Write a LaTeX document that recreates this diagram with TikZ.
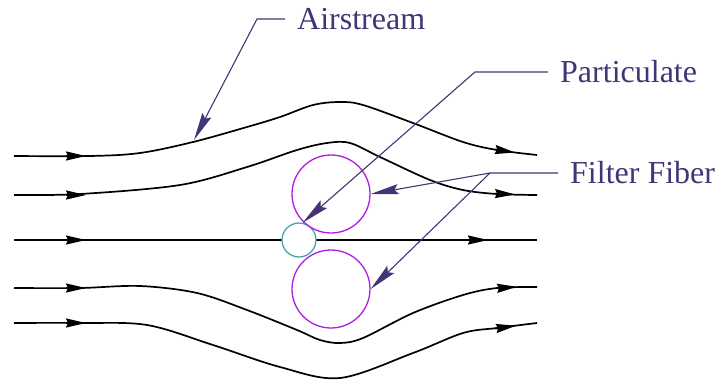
\documentclass[tikz,border=0pt]{standalone}
\usepackage{fontspec}
\setmainfont{Liberation Serif}
\usepackage{tikz}
\usetikzlibrary{arrows.meta}
\definecolor{leadpurple}{RGB}{68,52,118}
\definecolor{fibermag}{RGB}{175,30,225}
\definecolor{partteal}{RGB}{80,160,180}

\begin{document}
\begin{tikzpicture}[x=1pt, y=-1pt,
    stream/.style={line width=1.7pt, black},
    flow/.style={-{Stealth[length=20pt,width=9pt,inset=2pt]}, line width=1.7pt},
    lead/.style={leadpurple, line width=1.1pt},
    leadarrow/.style={lead, -{Stealth[length=28pt,width=10pt,inset=4pt]}},
    lbl/.style={leadpurple, font=\fontsize{32}{36}\selectfont, anchor=west,
      inner xsep=12pt, inner ysep=0pt},
    fiber/.style={circle, draw=fibermag, line width=1.3pt, minimum size=78pt, inner sep=0pt},
    grain/.style={circle, draw=partteal, line width=1.3pt, fill=white,
      minimum size=34pt, inner sep=0pt}]
    \useasboundingbox (0,0) rectangle (720,383);

    % ── Streamlines ───────────────────────────────────────────────────
    \draw[stream] plot[smooth, tension=0.55] coordinates {(14,156) (90,156) (140,153)
      (193,142) (247,127) (280,117) (313,105) (340,102) (363,105) (413,123)
      (463,142) (497,150) (537,155)};
    \draw[stream] plot[smooth, tension=0.55] coordinates {(14,195) (80,194) (180,185)
      (247,167) (297,150) (327,143) (350,143) (380,157) (430,180) (463,190)
      (497,194) (537,195)};
    \draw[stream, line width=2.2pt] (14,240) -- (537,240);
    \draw[stream] plot[smooth, tension=0.55] coordinates {(14,288) (80,288) (140,286)
      (197,293) (247,310) (297,330) (320,340) (340,343) (363,338) (413,313)
      (463,295) (497,288) (537,287)};
    \draw[stream] plot[smooth, tension=0.55] coordinates {(14,323) (80,323) (147,325)
      (213,345) (280,367) (340,378) (413,353) (463,333)
      (497,328) (537,323)};

    % flow arrows on the streamlines
    \foreach \yy in {156,195,240,288,323}{
      \draw[flow] (66,\yy) -- (86,\yy);
    }
    \draw[flow] (495,149.5) -- (515,152.5);
    \draw[flow] (495,193.6) -- (515,194.4);
    \draw[flow] (468,240) -- (488,240);
    \draw[flow] (497,288.3) -- (517,286.8);
    \draw[flow] (495,328.6) -- (516,325.8);

    % ── Particulate and fibers ────────────────────────────────────────
    \node[grain] (part) at (299,240) {};
    \node[fiber] (fibtop) at (331,194) {};
    \node[fiber] (fibbot) at (331,289) {};

    % ── Labels ────────────────────────────────────────────────────────
    \node[lbl] (airtxt) at (285,19) {Airstream};
    \node[lbl] (parttxt) at (548,72) {Particulate};
    \node[lbl] (fibtxt) at (558,173) {Filter Fiber};

    \coordinate (airknee) at (257,19);
    \coordinate (airtip) at (194,140);
    \coordinate (partknee) at (475,72);
    \coordinate (fibknee) at (490,173);

    \draw[leadarrow] (airtxt.west) -- (airknee) -- (airtip);
    \draw[leadarrow] (parttxt.west) -- (partknee) -- (part.78);
    \draw[leadarrow] (fibtxt.west) -- (fibknee) -- (fibtop.east);
    \draw[leadarrow] (fibknee) -- (fibbot.east);
\end{tikzpicture}
\end{document}
